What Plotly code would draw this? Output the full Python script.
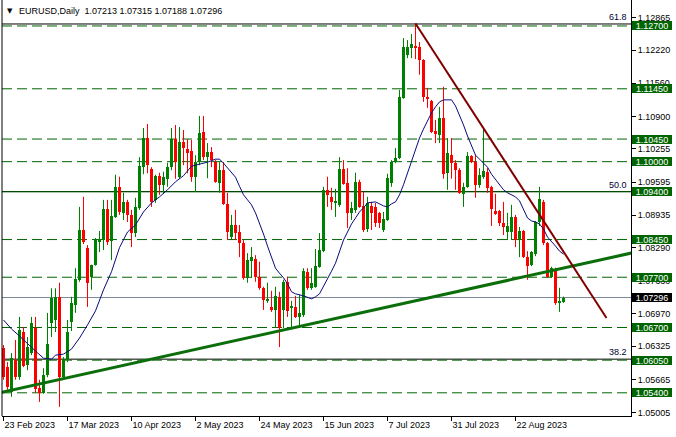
import plotly.graph_objects as go

# ---------------- data ----------------
opens = [1.0629,1.0591,1.0542,1.0605,1.0571,1.0661,1.0595,1.0619,1.0669,1.0550,
         1.0540,1.0575,1.0679,1.0685,1.0731,1.0571,1.0607,1.0681,1.0715,1.0765,
         1.0864,1.0828,1.0771,1.0795,1.0840,1.0844,1.0906,1.0842,1.0890,1.0950,
         1.0898,1.0920,1.0894,1.0858,1.0908,1.0989,1.1047,1.0985,1.0924,1.0972,
         1.0954,1.0966,1.0989,1.1045,1.0969,1.1039,1.1025,1.1021,1.0969,1.0999,
         1.1059,1.1009,1.1019,1.0999,1.0958,1.0983,1.0916,1.0850,1.0874,1.0860,
         1.0838,1.0769,1.0802,1.0806,1.0771,1.0749,1.0723,1.0711,1.0705,1.0731,
         1.0705,1.0761,1.0709,1.0711,1.0691,1.0695,1.0780,1.0749,1.0751,1.0791,
         1.0822,1.0944,1.0930,1.0918,1.0914,1.0985,1.0958,1.0898,1.0904,1.0960,
         1.0912,1.0866,1.0912,1.0910,1.0898,1.0864,1.0884,1.0958,1.0999,1.1007,
         1.1127,1.1212,1.1226,1.1230,1.1228,1.1202,1.1129,1.1121,1.1061,1.1053,
         1.1087,1.0977,1.1013,1.0997,1.0983,1.0936,1.0950,1.1011,1.0999,1.0954,
         1.0970,1.0979,1.0950,1.0902,1.0902,1.0878,1.0860,1.0860,1.0890,1.0844,
         1.0862,1.0810,1.0794,1.0816,1.0880,1.0920,1.0838,1.0771,1.0785,1.0719,
         1.07213]
highs = [1.0635,1.0601,1.0619,1.0645,1.0691,1.0671,1.0651,1.0691,1.0691,1.0566,
         1.0589,1.0699,1.0748,1.0748,1.0759,1.0611,1.0685,1.0731,1.0788,1.0910,
         1.0930,1.0834,1.0795,1.0848,1.0862,1.0924,1.0924,1.0924,1.0974,1.0970,
         1.0938,1.0924,1.0904,1.0928,1.1009,1.1067,1.1075,1.0989,1.0974,1.0978,
         1.0980,1.0998,1.1067,1.1073,1.1069,1.1063,1.1045,1.1043,1.1013,1.1091,
         1.1091,1.1037,1.1029,1.1003,1.0999,1.0999,1.0938,1.0894,1.0904,1.0874,
         1.0844,1.0818,1.0830,1.0814,1.0801,1.0751,1.0759,1.0743,1.0751,1.0741,
         1.0765,1.0771,1.0723,1.0733,1.0735,1.0788,1.0788,1.0788,1.0826,1.0858,
         1.0950,1.0970,1.0948,1.0946,1.1009,1.1003,1.0987,1.0920,1.0978,1.0964,
         1.0940,1.0930,1.0920,1.0918,1.0900,1.0900,1.0976,1.1003,1.1027,1.1143,
         1.1246,1.1242,1.1254,1.1275,1.1238,1.1204,1.1147,1.1123,1.1083,1.1109,
         1.1149,1.1047,1.1047,1.1003,1.0987,1.0958,1.1019,1.1013,1.1013,1.0987,
         1.1067,1.0987,1.0952,1.0936,1.0904,1.0920,1.0898,1.0914,1.0894,1.0870,
         1.0864,1.0822,1.0822,1.0882,1.0950,1.0924,1.0840,1.0791,1.0789,1.0749,
         1.07315]
lows = [1.0566,1.0546,1.0532,1.0566,1.0566,1.0591,1.0585,1.0615,1.0540,1.0522,
        1.0538,1.0571,1.0651,1.0661,1.0512,1.0566,1.0601,1.0663,1.0699,1.0761,
        1.0836,1.0711,1.0745,1.0793,1.0820,1.0824,1.0834,1.0804,1.0888,1.0894,
        1.0884,1.0880,1.0830,1.0850,1.0904,1.0975,1.0977,1.0910,1.0918,1.0934,
        1.0936,1.0950,1.0983,1.0966,1.0966,1.0993,1.0977,1.0960,1.0940,1.0993,
        1.1003,1.0967,1.0989,1.0958,1.0938,1.0914,1.0844,1.0844,1.0844,1.0810,
        1.0765,1.0759,1.0769,1.0761,1.0745,1.0705,1.0719,1.0701,1.0669,1.0631,
        1.0669,1.0691,1.0671,1.0689,1.0669,1.0691,1.0745,1.0745,1.0749,1.0789,
        1.0820,1.0910,1.0904,1.0890,1.0910,1.0954,1.0868,1.0884,1.0898,1.0908,
        1.0860,1.0860,1.0864,1.0870,1.0868,1.0860,1.0882,1.0950,1.0997,1.1005,
        1.1125,1.1206,1.1206,1.1204,1.1173,1.1119,1.1107,1.1057,1.1037,1.1037,
        1.0966,1.0944,1.0966,1.0944,1.0936,1.0910,1.0948,1.0997,1.0928,1.0948,
        1.0966,1.0938,1.0872,1.0894,1.0872,1.0854,1.0844,1.0844,1.0830,1.0810,
        1.0808,1.0765,1.0792,1.0812,1.0872,1.0834,1.0769,1.0769,1.0715,1.0701,
        1.07188]
closes = [1.0571,1.0552,1.0609,1.0571,1.0665,1.0593,1.0631,1.0679,1.0548,1.0540,
          1.0575,1.0637,1.0729,1.0731,1.0571,1.0607,1.0661,1.0719,1.0767,1.0864,
          1.0840,1.0759,1.0795,1.0844,1.0846,1.0906,1.0840,1.0892,1.0950,1.0900,
          1.0920,1.0894,1.0858,1.0910,1.0991,1.1047,1.0993,1.0920,1.0972,1.0954,
          1.0970,1.0989,1.1045,1.0999,1.1039,1.1027,1.1017,1.0969,1.0999,1.1057,
          1.1009,1.1019,1.1003,1.0960,1.0983,1.0916,1.0860,1.0874,1.0858,1.0838,
          1.0769,1.0804,1.0810,1.0771,1.0749,1.0725,1.0727,1.0705,1.0733,1.0669,
          1.0761,1.0703,1.0711,1.0691,1.0699,1.0782,1.0749,1.0759,1.0793,1.0824,
          1.0944,1.0934,1.0920,1.0922,1.0985,1.0956,1.0898,1.0908,1.0960,1.0910,
          1.0864,1.0918,1.0898,1.0878,1.0878,1.0886,1.0968,1.0999,1.1007,1.1129,
          1.1228,1.1228,1.1234,1.1228,1.1202,1.1129,1.1125,1.1059,1.1055,1.1087,
          1.0975,1.1017,1.0997,1.0983,1.0938,1.0950,1.1011,1.0999,1.0954,1.0974,
          1.0981,1.0948,1.0906,1.0896,1.0878,1.0870,1.0872,1.0890,1.0844,1.0862,
          1.0810,1.0792,1.0820,1.0880,1.0926,1.0838,1.0771,1.0789,1.0719,1.0723,
          1.07296]

# moving average (bar index, value)
ma_idx = [0,2,4,6,8,10,12,13,15,17,19,21,23,25,27,29,31,33,35,37,39,41,43,45,47,49,51,53,54,
          55,56,57,58,59,60,61,62,63,64,65,66,67,68,69,70,71,72,73,75,77,78,79,80,81,82,83,
          84,85,86,87,88,89,90,91,93,95,96,97,98,99,100,101,102,103,104,105,106,107,108,109,
          110,112,113,114,115,116,117,118,119,120,121,122,123,124,125,126,127,128,129,130,
          131,132,133,134,135,136,137,138,139,140]
ma_val = [1.0685,1.0667,1.0653,1.0637,1.0623,1.0609,1.0607,1.0615,1.0617,1.0627,1.0649,1.0675,
          1.0703,1.0745,1.0781,1.0829,1.0860,1.0874,1.0900,1.0918,1.0930,1.0944,1.0960,1.0972,
          1.0991,1.0995,1.0999,1.1005,1.1005,1.0997,1.0987,1.0979,1.0969,1.0951,1.0934,1.0924,
          1.0914,1.0898,1.0878,1.0856,1.0832,1.0810,1.0788,1.0778,1.0769,1.0757,1.0741,1.0737,
          1.0733,1.0727,1.0731,1.0737,1.0751,1.0767,1.0782,1.0798,1.0820,1.0844,1.0860,1.0876,
          1.0888,1.0900,1.0908,1.0918,1.0920,1.0912,1.0910,1.0916,1.0920,1.0934,1.0954,1.0977,
          1.1001,1.1023,1.1047,1.1065,1.1081,1.1097,1.1109,1.1119,1.1123,1.1123,1.1111,1.1093,
          1.1073,1.1051,1.1033,1.1013,1.1005,1.0997,1.0989,1.0975,1.0965,1.0953,1.0944,1.0938,
          1.0934,1.0930,1.0922,1.0904,1.0888,1.0882,1.0880,1.0876,1.0866,1.0850,1.0842,1.0832,
          1.0822,1.0816]

date_labels = ["23 Feb 2023", "17 Mar 2023", "10 Apr 2023", "2 May 2023", "24 May 2023",
               "15 Jun 2023", "7 Jul 2023", "31 Jul 2023", "22 Aug 2023"]
date_idx = [0, 16, 32, 48, 64, 80, 96, 112, 128]

price_ticks = [1.12865, 1.12220, 1.11560, 1.10900, 1.10255, 1.09595, 1.08935,
               1.08290, 1.07630, 1.06970, 1.06325, 1.05665, 1.05005]

levels = [1.12700, 1.11450, 1.10450, 1.10000, 1.09400, 1.08450, 1.07700, 1.06700, 1.06050, 1.05400]
solid_levels = [1.09400]
fib_levels = [1.1274, 1.09405, 1.0607]
fib_labels = ["61.8", "50.0", "38.2"]
last_price = 1.07296

trend_up_x = [-1, 158]
trend_up_y = [1.0540, 1.0820]
trend_down_x = [103, 150.75]
trend_down_y = [1.1275, 1.0689]

title_text = "EURUSD,Daily\u00a0\u00a01.07213\u00a01.07315\u00a01.07188\u00a01.07296"

# ---------------- styles ----------------
GREEN = "#008000"
RED = "#ff0000"
LEVEL_GREEN = "#006400"
FONT = "Liberation Sans, Arial, sans-serif"

n = len(opens)
idx = list(range(n))
up = [closes[i] >= opens[i] for i in idx]

fig = go.Figure()

# wicks
for flag, col in ((True, GREEN), (False, RED)):
    wx, wy = [], []
    for i in idx:
        if up[i] == flag:
            wx += [i, i, None]
            wy += [lows[i], highs[i], None]
    fig.add_trace(go.Scatter(x=wx, y=wy, mode="lines", line=dict(color=col, width=1),
                             hoverinfo="skip", showlegend=False))

# bodies
MIN_BODY = 0.00022
fig.add_trace(go.Bar(
    x=idx,
    y=[max(abs(closes[i] - opens[i]), MIN_BODY) for i in idx],
    base=[min(opens[i], closes[i]) for i in idx],
    width=0.75,
    marker=dict(color=[GREEN if u else RED for u in up], line=dict(width=0)),
    showlegend=False, hoverinfo="skip"))

# moving average
fig.add_trace(go.Scatter(x=ma_idx, y=ma_val, mode="lines",
                         line=dict(color="#0a0a78", width=1), showlegend=False, hoverinfo="skip"))

# trend lines
fig.add_trace(go.Scatter(x=trend_up_x, y=trend_up_y, mode="lines",
                         line=dict(color="#0b6e0b", width=3), showlegend=False, hoverinfo="skip"))
fig.add_trace(go.Scatter(x=trend_down_x, y=trend_down_y, mode="lines",
                         line=dict(color="#800000", width=2), showlegend=False, hoverinfo="skip"))

shapes = []
for f in fib_levels:
    shapes.append(dict(type="line", xref="paper", x0=0, x1=1, yref="y", y0=f, y1=f,
                       line=dict(color="#000000", width=1), layer="below"))
for lv in levels:
    shapes.append(dict(type="line", xref="paper", x0=0, x1=1, yref="y", y0=lv, y1=lv,
                       line=dict(color=LEVEL_GREEN, width=1,
                                 dash="solid" if lv in solid_levels else "10px,5px"),
                       layer="below"))
shapes.append(dict(type="line", xref="paper", x0=0, x1=1, yref="y", y0=last_price, y1=last_price,
                   line=dict(color="#778899", width=1), layer="below"))
shapes.append(dict(type="line", xref="paper", x0=0, x1=0, yref="paper", y0=0, y1=1,
                   line=dict(color="#000000", width=1)))

annotations = []
for lv in levels:
    annotations.append(dict(xref="paper", x=1, xanchor="left", xshift=1, yref="y", y=lv,
                            yanchor="middle", text=f"{lv:.5f}", showarrow=False,
                            bgcolor=LEVEL_GREEN, font=dict(family=FONT, size=9, color="white"),
                            width=40, height=9, borderpad=0, borderwidth=0))
annotations.append(dict(xref="paper", x=1, xanchor="left", xshift=1, yref="y", y=last_price,
                        yanchor="middle", text=f"{last_price:.5f}", showarrow=False,
                        bgcolor="#000000", font=dict(family=FONT, size=9, color="white"),
                        width=40, height=9, borderpad=0, borderwidth=0))
for f, lab in zip(fib_levels, fib_labels):
    annotations.append(dict(xref="paper", x=1, xanchor="right", xshift=-2, yref="y", y=f,
                            yanchor="bottom", text=lab, showarrow=False,
                            font=dict(family=FONT, size=9, color="#000033")))
annotations.append(dict(xref="paper", x=0, xanchor="left", xshift=3, yref="paper", y=1,
                        yanchor="top", yshift=-5, text="\u25bc", showarrow=False,
                        font=dict(family="DejaVu Sans", size=7, color="#000000")))
annotations.append(dict(xref="paper", x=0, xanchor="left", xshift=15, yref="paper", y=1,
                        yanchor="top", yshift=-4, text=title_text, showarrow=False,
                        font=dict(family=FONT, size=9, color="#000000")))

fig.update_layout(
    width=676, height=437,
    margin=dict(l=2, r=45, t=0, b=21),
    paper_bgcolor="white", plot_bgcolor="white",
    showlegend=False, bargap=0,
    shapes=shapes, annotations=annotations,
    xaxis=dict(range=[-0.375, 156.875], showgrid=False, zeroline=False,
               showline=True, linecolor="black", linewidth=1,
               tickmode="array", tickvals=date_idx, ticktext=date_labels,
               ticks="outside", ticklen=4, tickcolor="black",
               ticklabelposition="outside right",
               tickfont=dict(family=FONT, size=9, color="black")),
    yaxis=dict(range=[1.049386, 1.13217], side="right", showgrid=False, zeroline=False,
               showline=True, linecolor="black", linewidth=1,
               tickmode="array", tickvals=price_ticks, tickformat=".5f",
               ticks="outside", ticklen=4, tickcolor="black",
               tickfont=dict(family=FONT, size=9, color="black")),
)

fig.write_html("out.html", config={"displayModeBar": False},
               post_script="document.body.style.margin='0';document.body.style.padding='0';")
